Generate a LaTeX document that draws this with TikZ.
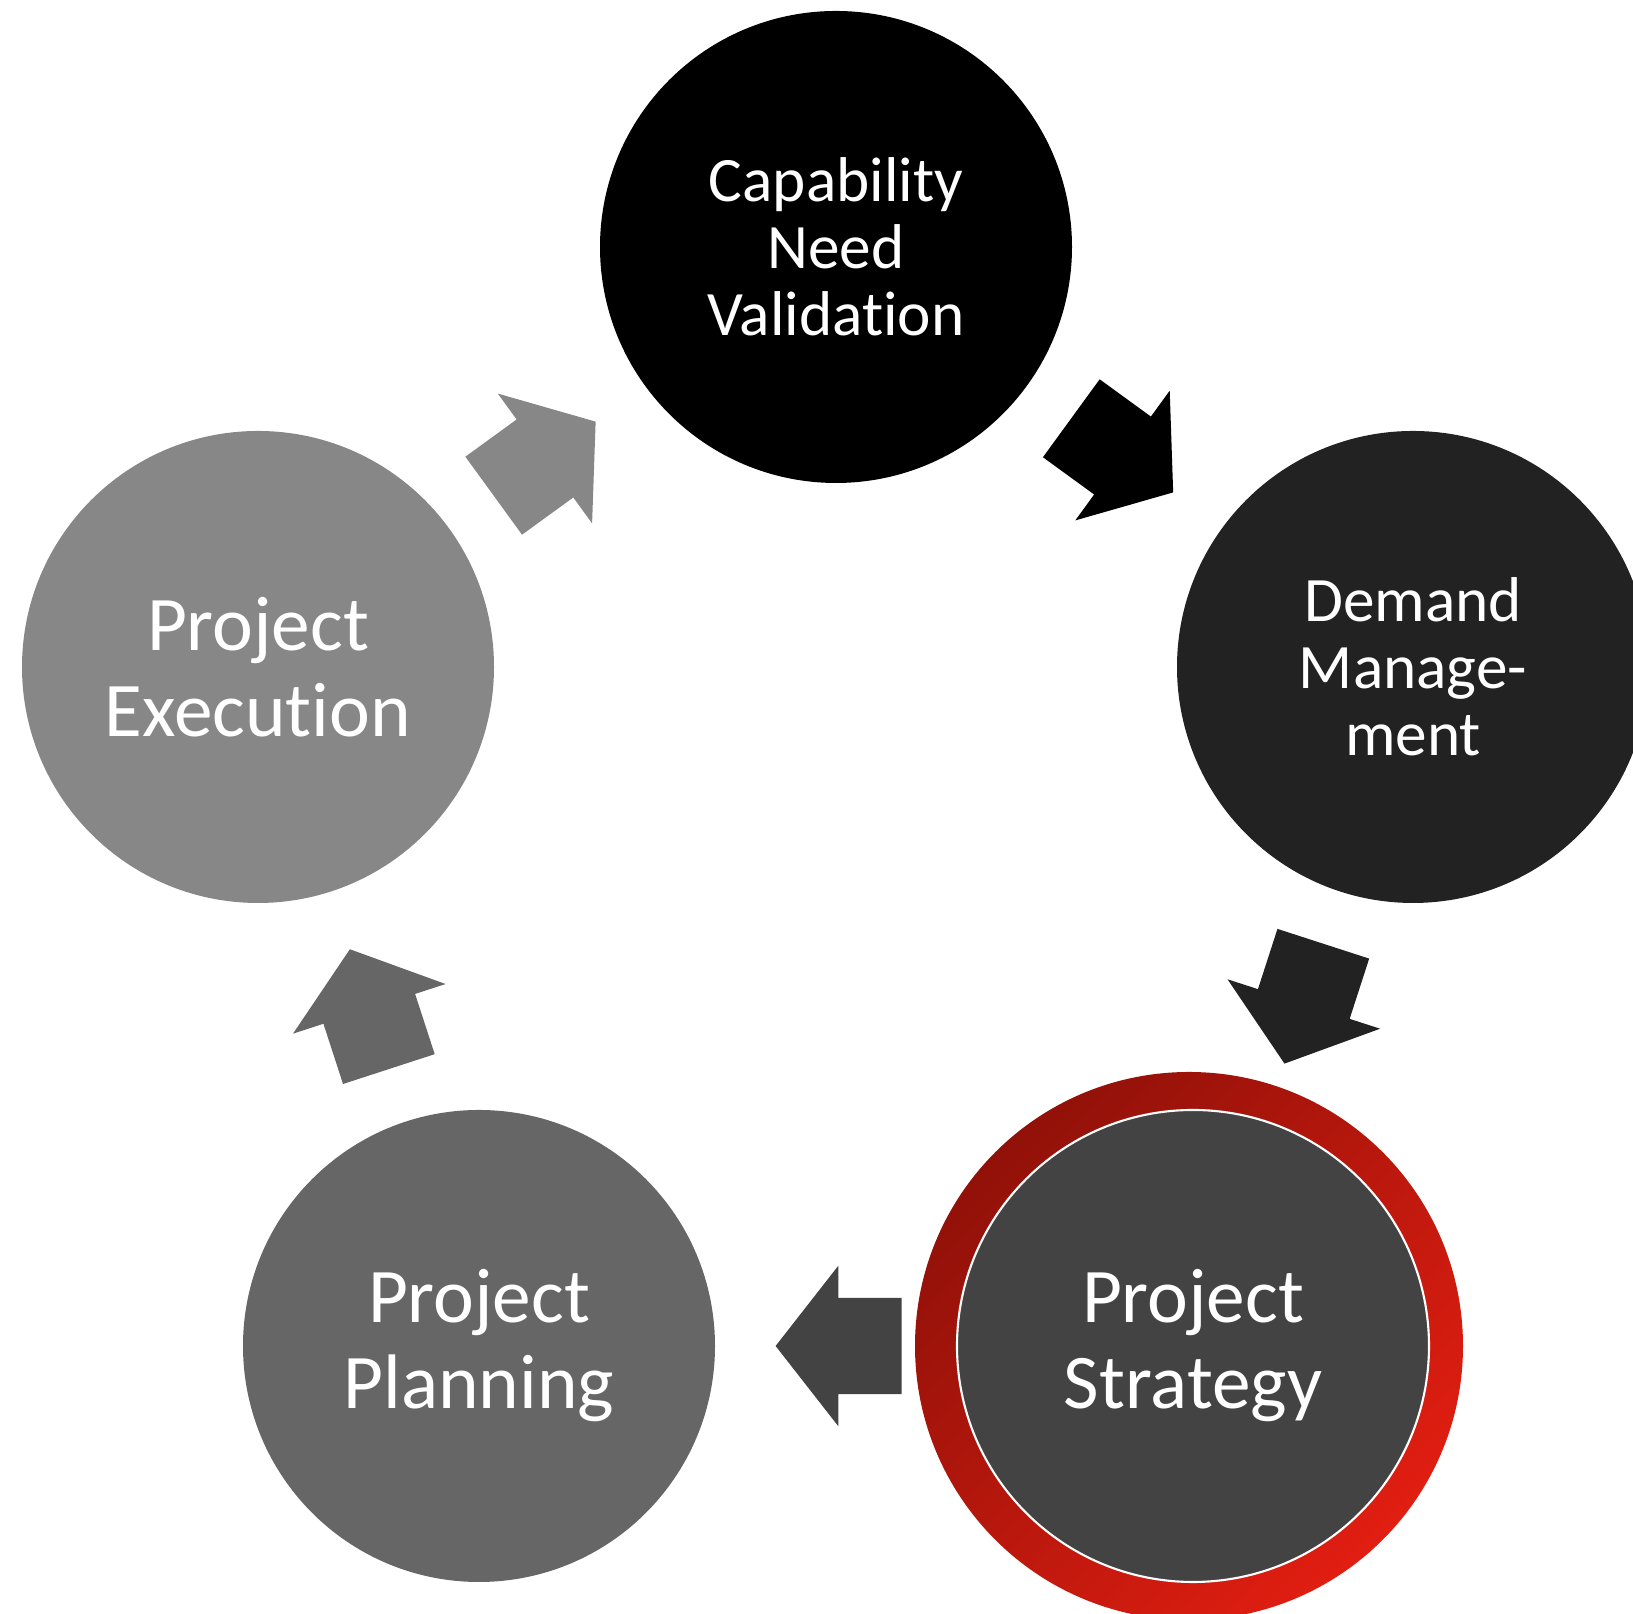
\documentclass[tikz,border=0pt]{standalone}
\usepackage{fontspec}
\setmainfont{Carlito}[Ligatures=NoCommon]
\usetikzlibrary{shapes.arrows}
\definecolor{capcol}{HTML}{000000}
\definecolor{demcol}{HTML}{222222}
\definecolor{strcol}{HTML}{434343}
\definecolor{placol}{HTML}{666666}
\definecolor{execol}{HTML}{878787}
\definecolor{ringtop}{RGB}{145,17,9}
\definecolor{ringbot}{RGB}{225,30,17}
\begin{document}
\begin{tikzpicture}[line join=round,
	stage/.style={circle, minimum size=4.72cm, inner sep=0pt, text=white, align=center},
	small/.style={font=\fontsize{18}{19}\selectfont},
	big/.style={font=\fontsize{22}{24.5}\selectfont},
	flow/.style={single arrow, minimum height=1.26cm, inner xsep=0pt, inner ysep=.475cm, single arrow head extend=.32cm, single arrow tip angle=104, pos=.41, sloped, allow upside down}]
	\def\xmax{16.33} \def\ymax{16.14}
	\useasboundingbox (0,0) rectangle (\xmax,\ymax);
	\shade[top color=ringtop, bottom color=ringbot, shading angle=45] (11.89,2.68) circle (2.74);
	\node[stage, small, fill=capcol] (cap) at (8.36,13.67) {Capability\\Need\\Validation};
	\node[stage, small, fill=demcol] (dem) at (14.13,9.47) {Demand\\Manage-\\ment};
	\node[stage, big, fill=strcol, draw=white, line width=.6pt] (str) at (11.93,2.68) {Project\\Strategy};
	\node[stage, big, fill=placol] (pla) at (4.79,2.68) {Project\\Planning};
	\node[stage, big, fill=execol] (exe) at (2.58,9.47) {Project\\Execution};
	\path (cap) -- (dem) node[flow, fill=capcol] {};
	\path (dem) -- (str) node[flow, fill=demcol] {};
	\path (str) -- (pla) node[flow, fill=strcol] {};
	\path (pla) -- (exe) node[flow, fill=placol] {};
	\path (exe) -- (cap) node[flow, fill=execol] {};
\end{tikzpicture}
\end{document}
